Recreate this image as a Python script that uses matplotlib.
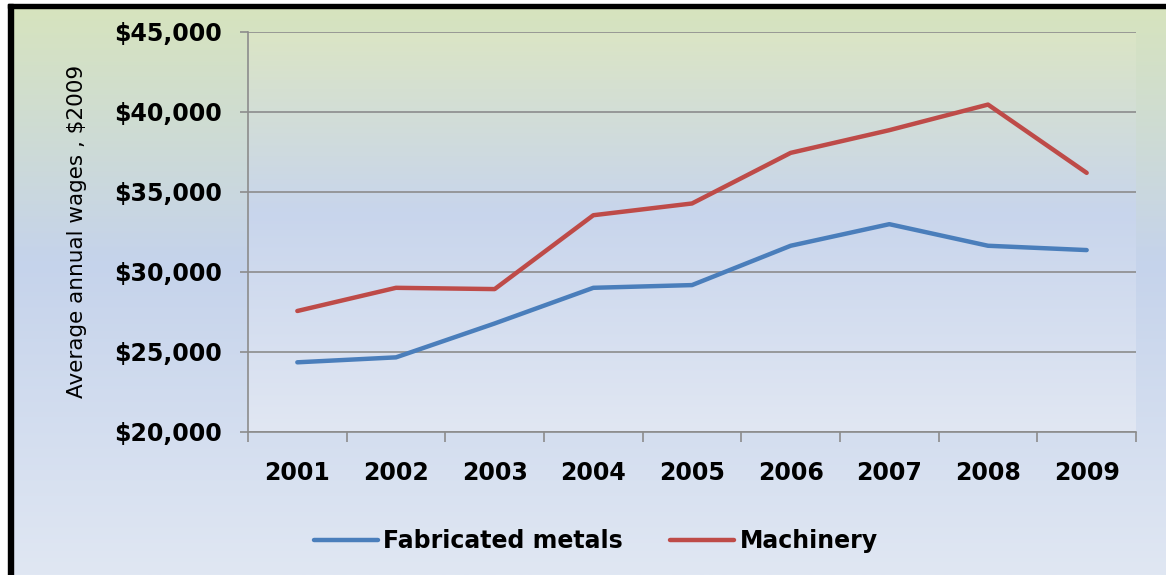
import numpy as np
import matplotlib.pyplot as plt
from matplotlib.patches import Rectangle
from matplotlib.ticker import FuncFormatter, FixedLocator
from matplotlib.colors import to_rgb

years = ['2001', '2002', '2003', '2004', '2005', '2006', '2007', '2008', '2009']
fabricated = [24340, 24650, 26770, 29000, 29170, 31630, 32980, 31630, 31360]
machinery = [27550, 29000, 28920, 33540, 34275, 37440, 38860, 40460, 36190]

plt.rcParams['font.family'] = ['DejaVu Sans']

W, H = 1166, 575
fig = plt.figure(figsize=(W / 100, H / 100), dpi=100, facecolor='white')


def vgrad(stops, n=300):
    # stops: list of (pos from top 0..1, color)
    pos = np.array([s[0] for s in stops])
    cols = np.array([to_rgb(s[1]) for s in stops])
    t = np.linspace(0, 1, n)
    img = np.stack([np.interp(t, pos, cols[:, i]) for i in range(3)], axis=1)
    return img[:, None, :]


# outer background gradient
bg = fig.add_axes([8 / W, 0, 1 - 8 / W, 1 - 4 / H], zorder=-10)
bg.imshow(vgrad([(0, '#d7e4bd'), (0.45, '#c5d3eb'), (1, '#e0e7f3')]),
          aspect='auto', extent=[0, 1, 0, 1])
bg.set_axis_off()

# black frame (top and left)
fig.patches.append(Rectangle((8 / W, 1 - 8 / H), 1 - 8 / W, 4 / H,
                             transform=fig.transFigure, color='black', zorder=5))
fig.patches.append(Rectangle((8 / W, 0), 5 / W, 1 - 4 / H,
                             transform=fig.transFigure, color='black', zorder=5))

ax = fig.add_axes([248 / W, 1 - 431.7 / H, (1136 - 248) / W, (431.7 - 32) / H])
ax.set_facecolor('none')
ax.imshow(vgrad([(0, '#dbe5c5'), (0.45, '#c8d5ec'), (1, '#e1e7f3')]),
          aspect='auto', extent=[0, 1, 0, 1], transform=ax.transAxes, zorder=0)

x = np.arange(1, len(years) + 1)
ax.plot(x, fabricated, color='#4a7ebb', lw=3.2, solid_capstyle='round',
        solid_joinstyle='round', label='Fabricated metals', zorder=3)
ax.plot(x, machinery, color='#be4b48', lw=3.2, solid_capstyle='round',
        solid_joinstyle='round', label='Machinery', zorder=3)

ax.set_xlim(0.5, len(years) + 0.5)
ax.set_ylim(20000, 45000)
ax.set_yticks(np.arange(20000, 45001, 5000))
ax.yaxis.set_major_formatter(FuncFormatter(lambda v, p: f'${v:,.0f}'))
ax.grid(axis='y', color='#8c8c8c', lw=1.2, zorder=1)

ax.set_xticks(x)
ax.set_xticklabels(years)
ax.xaxis.set_minor_locator(FixedLocator(np.arange(0.5, len(years) + 1, 1)))
ax.tick_params(axis='x', which='major', length=0, pad=21, labelsize=17)
ax.tick_params(axis='x', which='minor', length=7, width=1.2, color='#8c8c8c')
ax.tick_params(axis='y', length=6, width=1.2, color='#8c8c8c', pad=13, labelsize=17)
for lab in ax.get_xticklabels() + ax.get_yticklabels():
    lab.set_fontweight('bold')

for s in ['top', 'right']:
    ax.spines[s].set_visible(False)
for s in ['left', 'bottom']:
    ax.spines[s].set_color('#8c8c8c')
    ax.spines[s].set_linewidth(1.2)

ax.set_ylabel('Average annual wages , $2009', fontsize=15.5, labelpad=19)

leg = fig.legend(loc='center', bbox_to_anchor=(596 / W, 1 - 541 / H), ncol=2,
                 frameon=False, handlelength=2.7, handletextpad=0.25,
                 columnspacing=2.0, prop={'weight': 'bold', 'size': 17})

fig.savefig('out.png', dpi=100)
